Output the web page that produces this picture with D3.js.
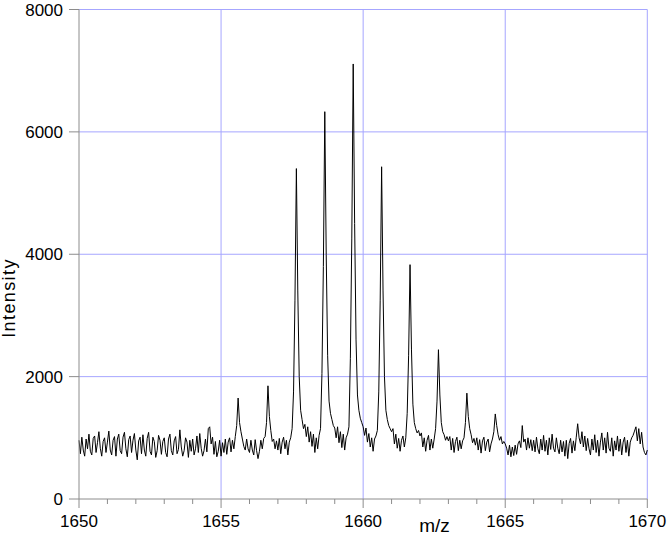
<!DOCTYPE html>
<html>
<head>
<meta charset="utf-8">
<script src="https://cdn.jsdelivr.net/npm/d3@7"></script>
<style>
  body { margin: 0; background: #fff; }
  text { font-family: "Liberation Sans", Arial, Helvetica, sans-serif; fill: #000; }
</style>
</head>
<body>
<div id="chart"></div>
<script>
// spectrum sampled every 0.05 m/z starting at 1650
var mzStart = 1650,
  mzStep = 0.05;

var intensity = [
  // 1650
  960, 740, 1010, 800, 700, 980, 820, 1060, 780, 720, 990, 1030, 760, 920, 1100, 830, 700, 940, 1000, 760,
  // 1651
  930, 1110, 800, 720, 960, 1020, 700, 980, 1060, 790, 740, 1010, 1090, 820, 690, 970, 1030, 760, 960, 1070,
  // 1652
  800, 640, 950, 1010, 740, 1050, 800, 700, 990, 1090, 780, 720, 1010, 940, 680, 790, 1040, 960, 730, 940,
  // 1653
  1000, 760, 690, 980, 1060, 790, 720, 950, 1020, 740, 810, 1130, 850, 700, 790, 1000, 930, 680, 960, 780,
  // 1654
  980, 720, 820, 1030, 760, 1070, 830, 700, 790, 980, 770, 1150, 1180, 900, 1010, 730, 940, 690, 780, 960,
  // 1655
  700, 920, 760, 980, 730, 930, 1000, 770, 960, 820, 1020, 1200, 1650, 1250, 1100, 980, 860, 800, 980, 820,
  // 1656
  760, 960, 800, 720, 970, 790, 660, 780, 960, 820, 990, 1020, 1250, 1850, 1350, 1120, 940, 980, 820, 950,
  // 1657
  800, 990, 740, 930, 1010, 820, 960, 720, 930, 1000, 1150, 1750, 3250, 5400, 3400, 2000, 1450, 1300, 1150, 1220,
  // 1658
  1020, 1180, 930, 1100, 860, 1060, 760, 1000, 820, 1040, 1150, 2050, 3800, 6330, 4000, 2350, 1600, 1400, 1300, 1200,
  // 1659
  1160, 1000, 1180, 920, 1100, 840, 1060, 800, 1000, 1060, 1180, 2300, 4250, 7110, 4500, 2600, 1700, 1450, 1320, 1250,
  // 1660
  1180, 1040, 1160, 930, 1070, 850, 1000, 780, 980, 1030, 1120, 1750, 3250, 5430, 3400, 2000, 1450, 1300, 1200, 1150,
  // 1661
  1100, 1150, 900, 1060, 830, 990, 780, 960, 1030, 850, 1000, 1400, 2350, 3830, 2450, 1550, 1250, 1150, 1080, 1120,
  // 1662
  1030, 1080, 850, 1000, 780, 960, 1040, 800, 980, 830, 980, 1150, 1600, 2440, 1700, 1250, 1100, 1050, 960, 1020,
  // 1663
  950, 1020, 800, 990, 760, 940, 1010, 790, 960, 820, 950, 1000, 1250, 1730, 1350, 1150, 1050, 920, 990, 880,
  // 1664
  1000, 800, 970, 750, 950, 1010, 790, 930, 980, 770, 900, 980, 1100, 1390, 1200, 1050, 960, 1020, 900, 940,
  // 1665
  900, 830, 720, 880, 690, 850, 710, 880, 730, 900, 950, 840, 1200, 930, 980, 800, 1000, 830, 970, 790,
  // 1666
  960, 770, 1010, 820, 740, 980, 800, 1040, 780, 960, 720, 1000, 810, 1060, 830, 770, 1000, 830, 740, 960,
  // 1667
  770, 940, 700, 960, 660, 910, 990, 750, 950, 790, 1010, 1230, 1000, 900, 1100, 850, 1030, 790, 990, 820,
  // 1668
  720, 980, 800, 1050, 760, 960, 700, 930, 1080, 800, 1000, 750, 1090, 830, 780, 1000, 700, 950, 800, 1030,
  // 1669
  780, 980, 720, 930, 1010, 760, 960, 700, 930, 1000, 1040, 1110, 1180, 950, 1150, 900, 1090, 850, 760, 720,
  // 1670
  800
];

var xTicks = [1650, 1655, 1660, 1665, 1670],
  xMinorTicks = [1651, 1652, 1653, 1654, 1656, 1657, 1658, 1659, 1661, 1662, 1663, 1664, 1666, 1667, 1668, 1669],
  yTicks = [0, 2000, 4000, 6000, 8000];

var width = 668,
  height = 536,
  margin = { top: 9.5, right: 20.7, bottom: 37, left: 79 };

var svg = d3.select("#chart").append("svg")
  .attr("width", width)
  .attr("height", height);

var x = d3.scaleLinear()
  .domain([1650, 1670])
  .range([margin.left, width - margin.right]);

var y = d3.scaleLinear()
  .domain([0, 8000])
  .range([height - margin.bottom, margin.top]);

var points = intensity.map(function(v, i) {
  return [mzStart + i * mzStep, v];
});

var gridColor = "#a6a6ff",
  axisColor = "#8c8c8c";

// grid
svg.append("g").selectAll("line.hgrid")
  .data(yTicks.slice(1))
  .enter().append("line")
  .attr("class", "hgrid")
  .attr("x1", x(1650))
  .attr("x2", x(1670))
  .attr("y1", function(d) { return y(d); })
  .attr("y2", function(d) { return y(d); })
  .attr("stroke", gridColor)
  .attr("stroke-width", 1);

svg.append("g").selectAll("line.vgrid")
  .data(xTicks.slice(1))
  .enter().append("line")
  .attr("class", "vgrid")
  .attr("x1", function(d) { return x(d); })
  .attr("x2", function(d) { return x(d); })
  .attr("y1", y(0))
  .attr("y2", y(8000))
  .attr("stroke", gridColor)
  .attr("stroke-width", 1);

// spectrum
var line = d3.line()
  .x(function(d) { return x(d[0]); })
  .y(function(d) { return y(d[1]); });

svg.append("path")
  .datum(points)
  .attr("d", line)
  .attr("fill", "none")
  .attr("stroke", "#000")
  .attr("stroke-width", 1)
  .attr("stroke-linejoin", "round");

// axes
var xAxis = svg.append("g")
  .attr("transform", "translate(0," + y(0) + ")");

xAxis.append("line")
  .attr("x1", x(1650))
  .attr("x2", x(1670))
  .attr("stroke", axisColor);

xAxis.selectAll("line.minor")
  .data(xMinorTicks)
  .enter().append("line")
  .attr("class", "minor")
  .attr("x1", function(d) { return x(d); })
  .attr("x2", function(d) { return x(d); })
  .attr("y1", 0)
  .attr("y2", 5)
  .attr("stroke", axisColor);

xAxis.selectAll("line.major")
  .data(xTicks)
  .enter().append("line")
  .attr("class", "major")
  .attr("x1", function(d) { return x(d); })
  .attr("x2", function(d) { return x(d); })
  .attr("y1", 0)
  .attr("y2", 9)
  .attr("stroke", axisColor);

xAxis.selectAll("text")
  .data(xTicks)
  .enter().append("text")
  .attr("x", function(d) { return x(d); })
  .attr("y", 28)
  .attr("text-anchor", "middle")
  .style("font-size", "17px")
  .text(function(d) { return d; });

var yAxis = svg.append("g")
  .attr("transform", "translate(" + x(1650) + ",0)");

yAxis.append("line")
  .attr("y1", y(0))
  .attr("y2", y(8000))
  .attr("stroke", axisColor);

yAxis.selectAll("line.tick")
  .data(yTicks)
  .enter().append("line")
  .attr("class", "tick")
  .attr("x1", -10)
  .attr("x2", 0)
  .attr("y1", function(d) { return y(d); })
  .attr("y2", function(d) { return y(d); })
  .attr("stroke", axisColor);

yAxis.selectAll("text")
  .data(yTicks)
  .enter().append("text")
  .attr("x", -16)
  .attr("y", function(d) { return y(d); })
  .attr("dy", "0.36em")
  .attr("text-anchor", "end")
  .style("font-size", "17px")
  .text(function(d) { return d; });

// titles
svg.append("text")
  .attr("x", 434.5)
  .attr("y", 532)
  .attr("text-anchor", "middle")
  .style("font-size", "19px")
  .text("m/z");

svg.append("text")
  .attr("transform", "translate(15,298) rotate(-90)")
  .attr("text-anchor", "middle")
  .style("font-size", "18px")
  .style("letter-spacing", "1.4px")
  .text("Intensity");
</script>
</body>
</html>
